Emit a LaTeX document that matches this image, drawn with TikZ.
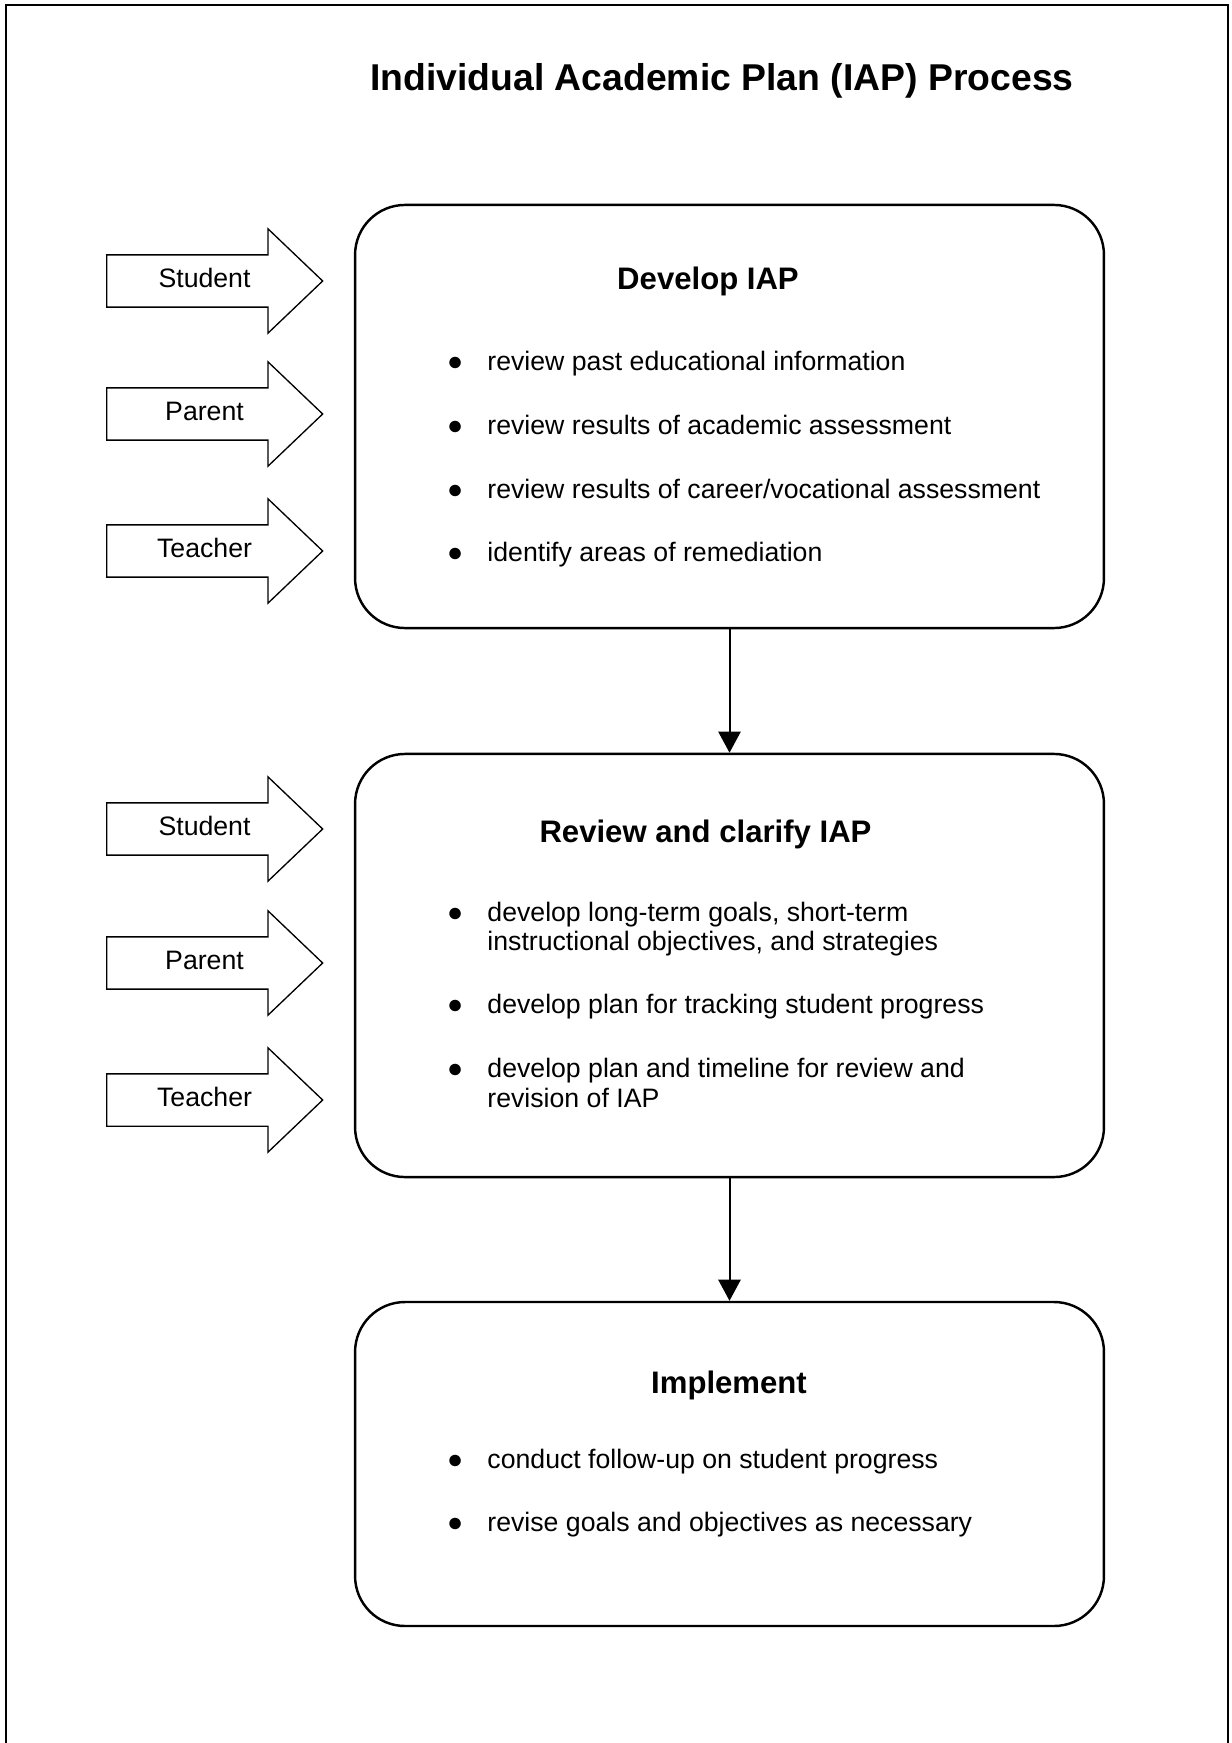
\documentclass[tikz,border=0pt]{standalone}
\usepackage{fontspec}
\setmainfont{Liberation Sans}
\usetikzlibrary{shapes.arrows,arrows.meta}

\newcommand{\dotitem}{\llap{\makebox[18.2pt][l]{\fontsize{12}{12}\selectfont ●}}}

\begin{document}
\begin{tikzpicture}
    [
        x=0.45pt, y=-0.45pt,
        stage/.style={rectangle, draw, line width=1.1pt, rounded corners=22.5pt, minimum width=337pt,},
        who/.style={single arrow, draw, line width=0.6pt, anchor=tail, minimum height=97.2pt,
            single arrow head extend=11.7pt, single arrow tip angle=87.3, single arrow head indent=0pt,
            text height=8.5pt, text depth=2.5pt, inner ysep=5.97pt, font=\fontsize{12}{14}\selectfont,
            execute at begin node=\hspace*{3.2pt},},
        heading/.style={anchor=base, inner sep=0pt, font=\fontsize{14}{17}\selectfont\bfseries,},
        point/.style={anchor=base west, inner sep=0pt, align=left, font=\fontsize{12}{13.2}\selectfont,},
        edge/.style={-{Triangle[length=9.5pt, width=10pt]}, line width=0.9pt,},
    ]

    \useasboundingbox (0,0) rectangle (1231,1743);

    % page frame
    \draw [line width=1pt] (6,1743) -- (6,5) -- (1228,5) -- (1228,1743);

    % title
    \node (title) at (722,91) [heading, font=\fontsize{16.8}{20}\selectfont\bfseries] {Individual Academic Plan (IAP) Process};

    % stages
    \node (dev) at (729.5,416.5) [stage, minimum height=190.4pt] {};
    \node (rev) at (729.5,965.5) [stage, minimum height=190.4pt] {};
    \node (imp) at (729.5,1464)  [stage, minimum height=145.8pt] {};

    \node (devh) at (708,290)    [heading] {Develop IAP};
    \node (revh) at (705.5,842)  [heading] {Review and clarify IAP};
    \node (imph) at (729,1393)   [heading] {Implement};

    \node (dev1) at (487,371)    [point] {\dotitem review past educational information};
    \node (dev2) at (487,434.5)  [point] {\dotitem review results of academic assessment};
    \node (dev3) at (487,498)    [point] {\dotitem review results of career/vocational assessment};
    \node (dev4) at (487,561.5)  [point] {\dotitem identify areas of remediation};

    % two-line points sit on their last line
    \node (rev1) at (487,950.5)  [point] {\dotitem develop long-term goals, short-term\\instructional objectives, and strategies};
    \node (rev2) at (487,1013)   [point] {\dotitem develop plan for tracking student progress};
    \node (rev3) at (487,1107)   [point] {\dotitem develop plan and timeline for review and\\revision of IAP};

    \node (imp1) at (487,1468)   [point] {\dotitem conduct follow-up on student progress};
    \node (imp2) at (487,1531)   [point] {\dotitem revise goals and objectives as necessary};

    % who takes part
    \node (s1) at (106,281)      [who] {Student};
    \node (p1) at (106,414)      [who] {Parent};
    \node (t1) at (106,551)      [who] {Teacher};

    \node (s2) at (106,829)      [who] {Student};
    \node (p2) at (106,963)      [who] {Parent};
    \node (t2) at (106,1100)     [who] {Teacher};

    \draw [edge] (dev) -- (rev);
    \draw [edge] (rev) -- (imp);

\end{tikzpicture}
\end{document}
